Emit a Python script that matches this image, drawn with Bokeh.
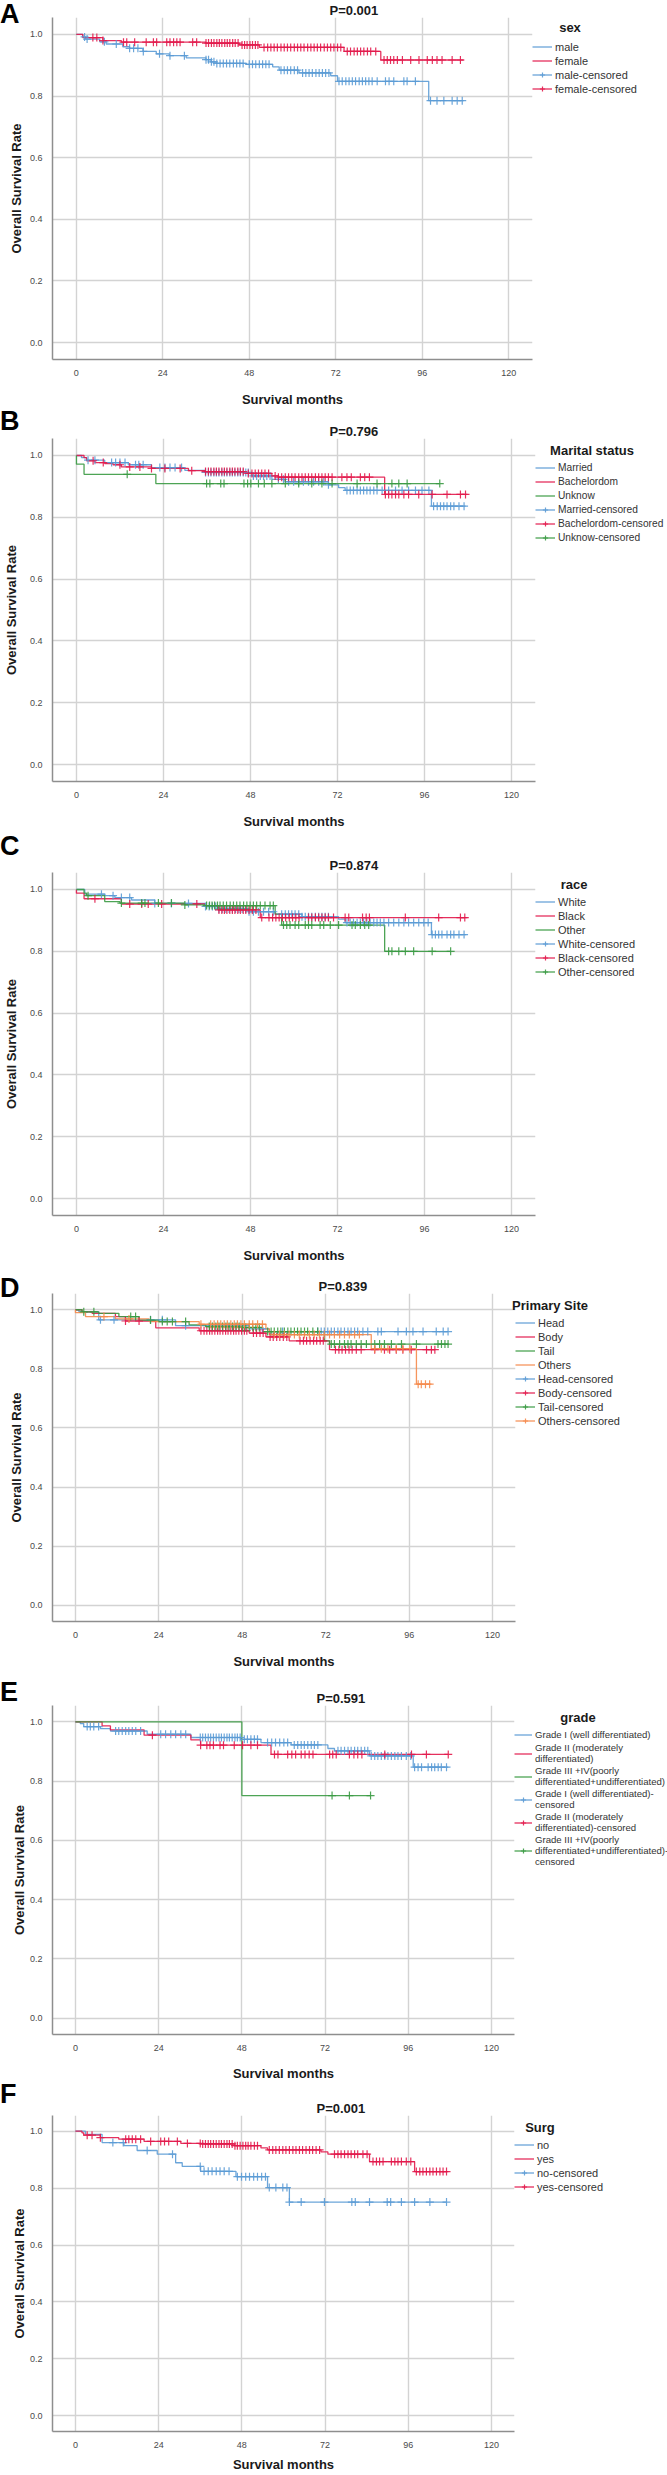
import numpy as np
from bokeh.plotting import figure
from bokeh.models import Range1d, FixedTicker, PrintfTickFormatter, Legend, LegendItem, Div
from bokeh.layouts import column
from bokeh.embed import file_html
from bokeh.resources import INLINE

# ---------------- data (months, survival) ----------------
X_TICKS = [0, 24, 48, 72, 96, 120]
Y_TICKS = [0.0, 0.2, 0.4, 0.6, 0.8, 1.0]
X_LABEL = "Survival months"
Y_LABEL = "Overall Survival Rate"

# Panel A: sex
A_male_t = [0, 1.8, 2.6, 6.5, 8.3, 12.9, 14.8, 18.5, 22.2, 25.8, 30.5, 36.0, 37.4, 38.8, 47.1, 54.5, 56.3, 61.8, 70.6, 72.5, 97.8, 107.5]
A_male_s = [1.0, 0.992, 0.985, 0.976, 0.969, 0.960, 0.955, 0.945, 0.937, 0.931, 0.924, 0.918, 0.911, 0.906, 0.903, 0.895, 0.884, 0.875, 0.866, 0.848, 0.785, 0.785]
A_male_c = [2.3, 3.0, 7.8, 11.1, 14.8, 15.9, 17.1, 18.6, 23.1, 26.0, 30.0, 36.0, 36.7, 37.5, 38.2, 39.0, 39.9, 40.8, 41.7, 42.6, 43.6, 44.5, 45.4, 46.3, 48.0, 48.9, 49.8, 50.8, 51.7, 52.6, 53.5, 56.8, 57.7, 58.6, 59.5, 60.5, 61.4, 62.8, 63.7, 64.6, 65.5, 66.5, 67.4, 68.3, 69.2, 70.1, 72.9, 73.8, 74.8, 75.7, 76.6, 77.5, 78.5, 79.4, 80.3, 81.2, 82.1, 83.5, 85.8, 86.8, 88.1, 90.9, 91.8, 94.1, 98.3, 100.1, 102.0, 104.3, 105.7, 107.1]
A_female_t = [0, 1.8, 7.4, 12.5, 36.0, 45.2, 50.8, 74.3, 84.5, 107.5]
A_female_s = [1.0, 0.990, 0.980, 0.975, 0.972, 0.966, 0.958, 0.945, 0.917, 0.917]
A_female_c = [4.6, 5.7, 7.4, 13.1, 14.0, 16.2, 19.4, 21.4, 22.3, 25.1, 26.0, 27.0, 27.9, 28.8, 32.3, 33.4, 36.0, 36.7, 37.5, 38.2, 39.0, 39.7, 40.4, 41.2, 41.9, 42.6, 43.4, 44.1, 44.9, 46.0, 46.7, 47.4, 48.2, 48.9, 49.7, 50.4, 52.1, 53.1, 54.0, 54.9, 55.8, 56.8, 57.7, 58.6, 59.5, 60.5, 61.4, 62.3, 63.2, 64.2, 65.1, 66.0, 66.9, 67.8, 68.8, 69.7, 70.6, 71.5, 72.5, 73.4, 75.2, 76.1, 77.1, 78.0, 78.9, 79.8, 80.8, 81.7, 83.1, 85.4, 86.3, 87.2, 88.1, 89.1, 90.5, 92.8, 95.1, 97.4, 98.8, 100.1, 101.5, 104.3, 106.6]
A_labels = ["male", "female", "male-censored", "female-censored"]

# Panel B: marital status
B_mar_t = [0, 1.4, 2.8, 7.8, 14.3, 20.7, 29.9, 35.5, 48.4, 53.9, 57.6, 69.5, 72.3, 74.1, 97.9, 107.3]
B_mar_s = [1.0, 0.993, 0.985, 0.977, 0.970, 0.961, 0.952, 0.945, 0.934, 0.923, 0.915, 0.905, 0.896, 0.887, 0.836, 0.836]
B_mar_c = [3.2, 5.1, 9.7, 10.8, 12.0, 13.4, 16.3, 17.2, 18.4, 23.0, 24.4, 25.8, 27.2, 29.0, 35.6, 36.4, 37.1, 37.9, 38.6, 39.3, 40.1, 40.8, 41.5, 42.3, 43.0, 43.7, 44.5, 45.2, 46.0, 46.7, 47.4, 48.8, 49.7, 50.7, 51.6, 52.5, 53.4, 55.7, 57.1, 58.5, 59.9, 61.3, 62.6, 64.0, 65.4, 66.8, 68.2, 69.5, 74.6, 75.5, 76.4, 77.4, 78.3, 79.2, 80.1, 81.0, 82.0, 82.9, 84.3, 86.1, 88.0, 89.8, 91.6, 93.5, 95.3, 97.2, 98.5, 99.5, 100.4, 101.3, 102.2, 103.2, 104.1, 105.5, 106.9]
B_bac_t = [0, 2.1, 2.8, 5.1, 7.8, 10.1, 12.4, 20.7, 30.9, 35.5, 46.5, 53.9, 55.7, 85.0, 107.8]
B_bac_s = [1.0, 0.993, 0.983, 0.977, 0.974, 0.970, 0.963, 0.958, 0.951, 0.948, 0.942, 0.934, 0.930, 0.874, 0.874]
B_bac_c = [4.6, 7.4, 12.0, 14.7, 17.5, 20.7, 24.4, 28.6, 31.8, 35.6, 36.4, 37.1, 37.9, 38.6, 39.3, 40.1, 40.8, 41.5, 42.3, 43.0, 43.7, 44.5, 45.2, 46.0, 47.4, 48.4, 49.3, 50.2, 51.1, 52.0, 53.0, 54.8, 55.7, 56.6, 57.6, 58.5, 59.4, 60.3, 61.3, 62.2, 63.1, 64.0, 64.9, 65.9, 66.8, 67.7, 68.6, 69.5, 70.5, 73.2, 74.6, 75.8, 78.3, 79.5, 80.8, 85.2, 86.1, 87.0, 88.0, 88.9, 90.3, 91.6, 94.4, 98.1, 102.2, 105.9, 107.3]
B_unk_t = [0, 0, 2.1, 21.9, 100.2]
B_unk_s = [1.0, 0.972, 0.939, 0.909, 0.909]
B_unk_c = [14.0, 35.9, 36.8, 39.8, 40.7, 46.2, 47.2, 48.1, 50.2, 51.8, 53.9, 57.6, 61.3, 64.9, 67.7, 70.5, 77.4, 82.9, 87.0, 88.9, 91.2, 100.2]
B_labels = ["Married", "Bachelordom", "Unknow", "Married-censored", "Bachelordom-censored", "Unknow-censored"]

# Panel C: race
C_whi_t = [0, 2.3, 7.8, 10.6, 15.2, 21.6, 35.5, 39.1, 47.4, 54.8, 62.2, 72.3, 74.1, 97.9, 107.5]
C_whi_s = [1.0, 0.985, 0.980, 0.974, 0.966, 0.955, 0.945, 0.937, 0.928, 0.920, 0.912, 0.904, 0.893, 0.854, 0.854]
C_whi_c = [6.9, 10.1, 12.4, 14.7, 21.6, 26.2, 30.9, 35.6, 36.6, 37.5, 38.4, 39.3, 40.2, 41.2, 42.1, 43.0, 43.9, 44.8, 45.7, 46.7, 47.6, 48.8, 50.2, 51.6, 53.0, 54.3, 56.6, 57.6, 58.5, 59.4, 60.3, 61.3, 62.2, 63.1, 64.0, 64.9, 65.9, 66.8, 67.7, 68.6, 69.5, 74.6, 75.5, 76.4, 77.4, 78.3, 79.2, 80.1, 81.0, 82.0, 82.9, 83.8, 84.8, 86.1, 87.5, 88.9, 90.3, 91.6, 93.0, 94.4, 95.8, 97.0, 98.1, 99.0, 99.9, 100.8, 102.2, 103.2, 104.1, 105.5, 106.9]
C_bla_t = [0, 0, 2.1, 12.4, 35.5, 39.1, 50.7, 107.8]
C_bla_s = [1.0, 0.988, 0.970, 0.953, 0.946, 0.934, 0.909, 0.909]
C_bla_c = [5.1, 14.7, 18.0, 19.8, 23.5, 33.2, 39.3, 40.1, 40.8, 41.5, 42.3, 43.0, 43.7, 44.5, 45.2, 46.0, 46.7, 47.6, 48.5, 49.5, 51.1, 53.1, 54.1, 55.0, 55.9, 56.8, 57.7, 58.7, 59.6, 60.5, 61.4, 64.0, 64.9, 65.9, 66.8, 67.7, 68.6, 69.5, 70.9, 74.1, 75.1, 78.9, 79.9, 80.8, 90.7, 99.9, 105.9, 107.1]
C_oth_t = [0, 2.1, 2.8, 7.8, 12.0, 29.9, 35.5, 54.8, 56.6, 85.0, 103.2]
C_oth_s = [1.0, 0.988, 0.980, 0.961, 0.956, 0.950, 0.948, 0.920, 0.885, 0.800, 0.800]
C_oth_c = [3.2, 12.4, 18.0, 18.9, 22.6, 26.2, 29.9, 35.9, 36.7, 37.4, 38.1, 38.9, 39.6, 40.5, 41.4, 42.4, 43.3, 44.2, 45.1, 46.1, 47.0, 47.9, 48.8, 49.7, 50.7, 52.0, 53.4, 54.3, 57.1, 58.0, 58.9, 60.3, 61.3, 63.1, 64.0, 64.9, 67.2, 68.2, 70.0, 72.3, 76.0, 76.9, 78.3, 79.5, 80.6, 86.1, 87.0, 88.9, 90.7, 93.0, 98.1, 103.2]
C_labels = ["White", "Black", "Other", "White-censored", "Black-censored", "Other-censored"]

# Panel D: primary site
D_hea_t = [0, 1.0, 6.7, 28.8, 50.0, 55.8, 107.2]
D_hea_s = [1.0, 0.993, 0.966, 0.946, 0.935, 0.926, 0.926]
D_hea_c = [7.2, 11.1, 21.6, 25.0, 31.7, 53.8, 59.6, 69.7, 70.7, 71.6, 72.6, 73.6, 74.5, 75.5, 76.4, 77.4, 78.4, 79.3, 80.3, 81.2, 82.7, 84.1, 87.0, 88.0, 92.8, 95.2, 97.1, 100.0, 103.8, 105.8, 107.2]
D_bod_t = [0, 1.9, 4.8, 11.5, 14.4, 23.1, 35.6, 50.0, 54.8, 61.5, 73.1, 103.4]
D_bod_s = [1.0, 0.993, 0.988, 0.977, 0.962, 0.939, 0.929, 0.921, 0.908, 0.895, 0.865, 0.865]
D_bod_c = [14.4, 18.3, 36.1, 37.0, 37.8, 38.6, 39.3, 40.1, 40.9, 41.6, 42.4, 43.2, 43.9, 44.7, 45.5, 46.2, 47.0, 47.8, 48.6, 49.3, 51.2, 52.1, 53.1, 54.0, 56.0, 56.9, 57.9, 58.8, 59.8, 60.8, 64.6, 65.6, 66.5, 67.5, 68.5, 69.4, 70.4, 71.3, 74.8, 75.8, 76.7, 77.7, 78.7, 79.6, 80.8, 82.2, 86.1, 88.9, 90.4, 92.3, 94.2, 96.6, 101.0, 102.4, 103.4]
D_tai_t = [0, 1.9, 6.7, 12.5, 18.3, 24.0, 32.7, 37.5, 48.1, 53.8, 71.6, 73.1, 107.2]
D_tai_s = [1.0, 0.993, 0.988, 0.977, 0.965, 0.960, 0.949, 0.943, 0.940, 0.926, 0.895, 0.884, 0.884]
D_tai_c = [2.4, 5.3, 15.9, 17.3, 21.6, 25.0, 26.4, 27.9, 31.7, 38.5, 39.4, 40.4, 41.3, 42.3, 43.3, 44.2, 45.2, 46.2, 47.1, 48.1, 49.0, 50.0, 51.0, 51.9, 52.9, 55.3, 56.3, 57.2, 58.2, 59.1, 60.1, 61.1, 62.0, 63.0, 63.9, 64.9, 65.9, 66.8, 68.3, 69.7, 73.6, 74.5, 76.0, 77.4, 78.4, 79.3, 80.8, 82.2, 83.7, 86.1, 87.5, 88.9, 90.9, 93.8, 98.1, 104.3, 105.3, 106.3, 107.2]
D_oth_t = [0, 0, 2.9, 11.5, 21.2, 35.6, 54.8, 55.8, 85.1, 98.1, 102.4]
D_oth_s = [1.0, 0.990, 0.977, 0.969, 0.960, 0.951, 0.935, 0.916, 0.868, 0.748, 0.748]
D_oth_c = [8.2, 15.4, 36.1, 38.9, 39.9, 40.9, 41.8, 42.8, 43.7, 44.7, 45.7, 46.6, 47.6, 48.6, 50.0, 51.0, 52.4, 53.8, 57.2, 58.7, 60.1, 61.5, 63.0, 64.4, 65.9, 67.3, 68.7, 70.2, 71.6, 73.1, 74.5, 76.0, 77.4, 78.8, 80.3, 81.7, 86.1, 88.0, 89.9, 92.3, 94.2, 96.2, 98.6, 99.5, 100.7, 101.9]
D_labels = ["Head", "Body", "Tail", "Others", "Head-censored", "Body-censored", "Tail-censored", "Others-censored"]

# Panel E: grade
E_g1_t = [0, 1.4, 2.4, 7.2, 10.1, 20.7, 33.3, 47.7, 53.5, 62.2, 72.8, 74.7, 84.8, 97.4, 107.5]
E_g1_s = [1.0, 0.994, 0.984, 0.977, 0.969, 0.958, 0.947, 0.941, 0.930, 0.922, 0.910, 0.902, 0.885, 0.847, 0.847]
E_g1_c = [3.4, 4.3, 5.3, 6.7, 11.6, 12.5, 13.5, 14.5, 15.4, 16.4, 17.4, 18.8, 24.6, 26.0, 27.5, 28.9, 30.4, 31.8, 36.0, 36.7, 37.5, 38.3, 39.0, 39.8, 40.6, 41.4, 42.1, 42.9, 43.7, 44.4, 45.2, 46.0, 46.7, 47.5, 48.7, 49.6, 50.6, 51.6, 52.5, 55.4, 56.6, 57.7, 58.9, 60.1, 61.2, 63.1, 64.1, 65.1, 66.0, 67.0, 68.0, 68.9, 69.9, 75.7, 76.6, 77.6, 78.6, 79.5, 80.5, 81.4, 82.4, 83.4, 84.3, 85.3, 86.3, 87.2, 88.2, 89.2, 90.1, 91.1, 92.1, 93.0, 94.0, 95.4, 96.7, 97.8, 98.8, 99.8, 101.7, 102.7, 103.6, 104.6, 105.5, 107.0]
E_g2_t = [0, 7.7, 10.1, 19.8, 33.3, 36.1, 56.4, 107.5]
E_g2_s = [1.0, 0.986, 0.973, 0.955, 0.939, 0.921, 0.890, 0.890]
E_g2_c = [22.2, 36.1, 37.9, 38.8, 39.8, 41.7, 42.7, 45.8, 48.2, 50.6, 52.5, 57.4, 58.4, 61.2, 62.4, 63.5, 65.1, 66.2, 67.4, 68.5, 73.3, 74.2, 75.2, 79.0, 80.3, 81.4, 82.6, 89.2, 96.9, 101.2, 107.5]
E_g3_t = [0, 48.0, 85.1]
E_g3_s = [1.0, 0.751, 0.751]
E_g3_c = [74.0, 79.0, 85.1]
E_labels = ["Grade I (well differentiated)",
            "Grade II (moderately\ndifferentiated)",
            "Grade III +IV(poorly\ndifferentiated+undifferentiated)",
            "Grade I (well differentiated)-\ncensored",
            "Grade II (moderately\ndifferentiated)-censored",
            "Grade III +IV(poorly\ndifferentiated+undifferentiated)-\ncensored"]

# Panel F: surgery
F_no_t = [0, 2.9, 7.7, 14.0, 17.8, 23.6, 28.9, 30.8, 36.1, 46.3, 55.4, 61.7, 107.0]
F_no_s = [1.0, 0.989, 0.960, 0.949, 0.932, 0.919, 0.889, 0.876, 0.859, 0.840, 0.802, 0.751, 0.751]
F_no_c = [10.8, 13.8, 20.7, 28.0, 36.0, 37.1, 38.3, 39.4, 40.6, 41.7, 42.9, 44.3, 46.7, 47.9, 49.1, 50.2, 51.4, 52.5, 53.7, 54.8, 55.9, 57.8, 59.8, 61.0, 61.7, 65.1, 71.8, 79.7, 80.7, 84.8, 89.9, 90.9, 94.0, 97.8, 102.2, 107.0]
F_yes_t = [0, 1.9, 2.4, 7.2, 12.5, 19.8, 30.4, 36.1, 45.8, 53.5, 55.4, 70.8, 72.8, 84.8, 97.8, 107.5]
F_yes_s = [1.0, 0.994, 0.986, 0.977, 0.972, 0.964, 0.957, 0.955, 0.949, 0.941, 0.934, 0.927, 0.919, 0.893, 0.858, 0.858]
F_yes_c = [3.4, 4.8, 7.2, 14.5, 15.4, 16.4, 17.4, 18.8, 21.7, 24.6, 25.7, 26.9, 29.4, 32.3, 36.0, 36.7, 37.5, 38.3, 39.0, 39.8, 40.6, 41.4, 42.1, 42.9, 43.7, 44.4, 45.2, 46.0, 46.7, 47.5, 48.3, 49.1, 49.8, 50.6, 51.6, 52.5, 55.9, 56.9, 57.8, 58.8, 59.8, 60.7, 61.7, 62.7, 63.6, 64.6, 65.5, 66.5, 67.5, 68.4, 69.4, 70.4, 74.7, 75.7, 76.6, 77.6, 78.6, 79.5, 80.5, 81.4, 82.9, 84.1, 85.8, 86.8, 87.7, 88.7, 91.1, 92.1, 93.0, 94.0, 95.4, 96.7, 98.3, 99.3, 100.2, 101.2, 102.2, 103.1, 104.1, 105.1, 106.0, 107.0]
F_labels = ["no", "yes", "no-censored", "yes-censored"]

# ---------------- styles ----------------
BLUE = "#5b9bd5"
RED = "#e2194b"
GREEN = "#3a9a43"
ORANGE = "#f5894b"
SANS = "Liberation Sans"
W = 658
X_START, X_END = -6.6, 126.6
Y_START, Y_END = -0.055, 1.055

PANELS = [
    dict(letter="A", pval="P=0.001", ltitle="sex", labels=A_labels,
         groups=[(A_male_t, A_male_s, A_male_c, BLUE), (A_female_t, A_female_s, A_female_c, RED)],
         H=402, L=35, FW=480, T=15, FH=342, let_top=1, toff=277, ltx=570,
         lfont="11px", pad=4, gw=20, xs=13, ys=3),
    dict(letter="B", pval="P=0.796", ltitle="Marital status", labels=B_labels,
         groups=[(B_mar_t, B_mar_s, B_mar_c, BLUE), (B_bac_t, B_bac_s, B_bac_c, RED), (B_unk_t, B_unk_s, B_unk_c, GREEN)],
         H=418, L=40, FW=483, T=29, FH=343, let_top=-1, toff=277, ltx=592,
         lfont="10.2px", pad=3, gw=20, xs=13, ys=8),
    dict(letter="C", pval="P=0.874", ltitle="race", labels=C_labels,
         groups=[(C_whi_t, C_whi_s, C_whi_c, BLUE), (C_bla_t, C_bla_s, C_bla_c, RED), (C_oth_t, C_oth_s, C_oth_c, GREEN)],
         H=434, L=40, FW=483, T=41, FH=343, let_top=2, toff=277, ltx=574,
         lfont="11px", pad=3, gw=20, xs=13, ys=8),
    dict(letter="D", pval="P=0.839", ltitle="Primary Site", labels=D_labels,
         groups=[(D_hea_t, D_hea_s, D_hea_c, BLUE), (D_bod_t, D_bod_s, D_bod_c, RED), (D_tai_t, D_tai_s, D_tai_c, GREEN), (D_oth_t, D_oth_s, D_oth_c, ORANGE)],
         H=402, L=35, FW=463, T=28, FH=328, let_top=10, toff=266, ltx=550,
         lfont="11px", pad=3, gw=20, xs=13, ys=3),
    dict(letter="E", pval="P=0.591", ltitle="grade", labels=E_labels,
         groups=[(E_g1_t, E_g1_s, E_g1_c, BLUE), (E_g2_t, E_g2_s, E_g2_c, RED), (E_g3_t, E_g3_s, E_g3_c, GREEN)],
         H=408, L=32, FW=462, T=34, FH=329, let_top=8, toff=264, ltx=578,
         lfont="9.6px", pad=2, gw=18, xs=12, ys=0),
    dict(letter="F", pval="P=0.001", ltitle="Surg", labels=F_labels,
         groups=[(F_no_t, F_no_s, F_no_c, BLUE), (F_yes_t, F_yes_s, F_yes_c, RED)],
         H=391, L=32, FW=462, T=32, FH=316, let_top=-2, toff=264, ltx=540,
         lfont="11px", pad=3, gw=20, xs=6, ys=0),
]


def overlay_div(cfg):
    """Panel letter and centred legend heading, drawn over the top of the following figure."""
    html = (
        f'<div style="position:absolute;left:0px;top:{cfg["let_top"]}px;'
        f'font-family:\'Liberation Sans\',Arial,sans-serif;font-weight:bold;font-size:27px;'
        f'line-height:27px;color:#000;white-space:nowrap;">{cfg["letter"]}</div>'
        f'<div style="position:absolute;left:{cfg["ltx"]}px;top:{cfg["T"] + 13 - 8}px;transform:translateX(-50%);'
        f'font-family:\'Liberation Sans\',Arial,sans-serif;font-weight:bold;font-size:13px;'
        f'line-height:16px;color:#1a1a1a;white-space:nowrap;">{cfg["ltitle"]}</div>'
    )
    return Div(text=html, width=W, height=0, margin=0,
               styles={"position": "relative", "overflow": "visible", "z-index": "10",
                       "font-size": "0px", "line-height": "0px", "padding": "0px"})


def make_panel(cfg):
    R = W - cfg["L"] - cfg["FW"]
    B = cfg["H"] - cfg["T"] - cfg["FH"]
    p = figure(frame_width=cfg["FW"], frame_height=cfg["FH"],
               x_range=Range1d(X_START, X_END), y_range=Range1d(Y_START, Y_END),
               output_backend="svg", toolbar_location=None, title=cfg["pval"],
               min_border_left=cfg["L"], min_border_right=R, min_border_top=cfg["T"], min_border_bottom=B)
    p.outline_line_color = None
    p.background_fill_color = "white"
    p.border_fill_color = None

    # p-value heading
    p.title.align = "left"
    p.title.offset = cfg["toff"]
    p.title.standoff = 0
    p.title.text_font = SANS
    p.title.text_font_style = "bold"
    p.title.text_font_size = "13px"
    p.title.text_color = "#1a1a1a"

    for ax in (p.xaxis, p.yaxis):
        ax.major_tick_line_color = None
        ax.minor_tick_line_color = None
        ax.axis_line_color = "#8e8e8e"
        ax.axis_line_width = 1.5
        ax.major_label_text_font = SANS
        ax.major_label_text_font_size = "9px"
        ax.major_label_text_color = "#4a4a4a"
        ax.major_label_standoff = 4
        ax.axis_label_text_color = "#1a1a1a"
        ax.axis_label_text_font_style = "bold"
        ax.axis_label_text_font = SANS
    p.xaxis.ticker = FixedTicker(ticks=X_TICKS)
    p.yaxis.ticker = FixedTicker(ticks=Y_TICKS)
    p.yaxis.formatter = PrintfTickFormatter(format="%.1f")
    p.xaxis.axis_label = X_LABEL
    p.xaxis.axis_label_text_font_size = "13px"
    p.xaxis.axis_label_standoff = cfg["xs"]
    p.yaxis.axis_label = Y_LABEL
    p.yaxis.axis_label_text_font_size = "13px"
    p.yaxis.axis_label_standoff = cfg["ys"]
    for g in (p.xgrid, p.ygrid):
        g.grid_line_color = "#d3d3d3"
        g.grid_line_width = 1.4

    line_rs, cens_rs = [], []
    for t, s, c, col in cfg["groups"]:
        r = p.step(x=t, y=s, mode="after", line_color=col, line_width=1.3, line_alpha=0.9)
        line_rs.append(r)
    for (t, s, c, col) in cfg["groups"]:
        ta = np.asarray(t, dtype=float)
        sa = np.asarray(s, dtype=float)
        ca = np.asarray(c, dtype=float)
        idx = np.searchsorted(ta, ca, side="right") - 1
        cr = p.scatter(x=ca, y=sa[idx], marker="cross", size=8, line_color=col, line_width=1.2, line_alpha=0.9)
        cens_rs.append(cr)

    n = len(cfg["groups"])
    labels = cfg["labels"]
    items = [LegendItem(label=labels[i], renderers=[line_rs[i]]) for i in range(n)]
    items += [LegendItem(label=labels[n + i], renderers=[line_rs[i], cens_rs[i]]) for i in range(n)]
    leg = Legend(items=items, location="top_left", title=" ",
                 title_text_font=SANS, title_text_font_style="bold", title_text_font_size="13px",
                 title_text_color="#1a1a1a", title_standoff=8,
                 label_text_font=SANS, label_text_font_size=cfg["lfont"], label_text_color="#333333",
                 glyph_width=cfg["gw"], glyph_height=13, label_height=13, label_width=10, label_standoff=3,
                 spacing=1, padding=cfg["pad"], margin=0, border_line_color=None, background_fill_alpha=0)
    p.add_layout(leg, "right")
    return p


children = []
for c in PANELS:
    children.append(overlay_div(c))
    children.append(make_panel(c))
layout = column(*children)
open("out.html", "w").write(file_html(layout, INLINE))
